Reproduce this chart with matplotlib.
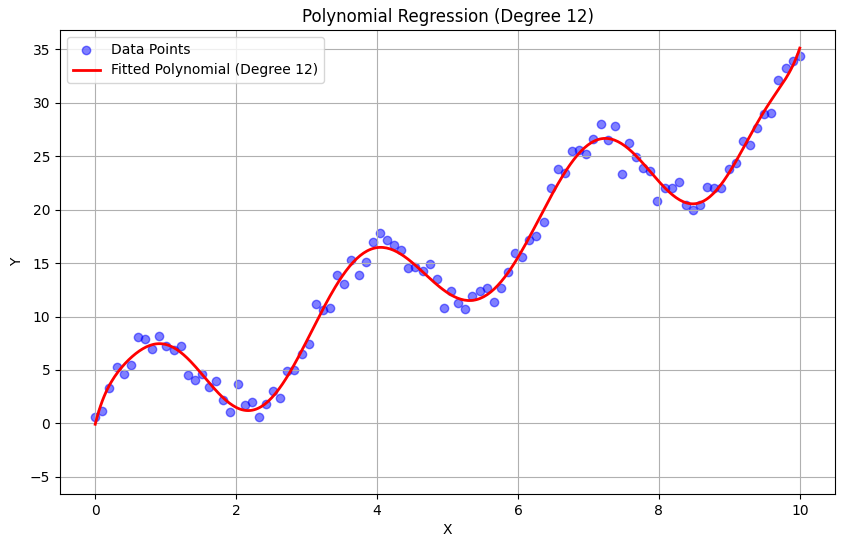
import numpy as np
import matplotlib
matplotlib.use("Agg")
import matplotlib.pyplot as plt

x = np.linspace(0, 10, 100)
y = [0.6,1.2,3.3,5.3,4.6,5.5,8.1,7.9,7.0,8.2,
     7.2,6.9,7.2,4.5,4.1,4.6,3.4,4.0,2.2,1.1,
     3.7,1.7,2.0,0.6,1.8,3.0,2.4,4.9,5.0,6.5,
     7.4,11.2,10.6,10.8,13.9,13.0,15.3,13.9,15.1,17.0,
     17.8,17.2,16.7,16.2,14.5,14.6,14.3,14.9,13.5,10.8,
     12.4,11.3,10.7,11.9,12.4,12.7,11.4,12.7,14.2,15.9,
     15.6,17.2,17.5,18.8,22.0,23.8,23.4,25.5,25.6,25.2,
     26.6,28.0,26.5,27.8,23.3,26.2,24.9,23.9,23.6,20.8,
     22.0,22.0,22.6,20.4,20.0,20.4,22.1,22.0,22.0,23.8,
     24.4,26.4,26.0,27.6,28.9,29.0,32.1,33.2,33.9,34.4]
degree = 12

coef = np.polyfit(x, y, degree)
xf = np.linspace(0, 10, 400)
yf = np.polyval(coef, xf)

fig = plt.figure(figsize=(8.44, 5.47), dpi=100)
ax = fig.add_axes([60/844, 53/547, 775/844, 464/547])
ax.scatter(x, y, color='blue', alpha=0.5, label='Data Points')
ax.plot(xf, yf, color='red', linewidth=2, label=f'Fitted Polynomial (Degree {degree})')
ax.set_title(f'Polynomial Regression (Degree {degree})')
ax.set_xlabel('X')
ax.set_ylabel('Y')
ax.set_ylim(-6.6, 36.8)
ax.grid(True)
ax.legend(loc='upper left')
fig.savefig('out.png', dpi=100)
